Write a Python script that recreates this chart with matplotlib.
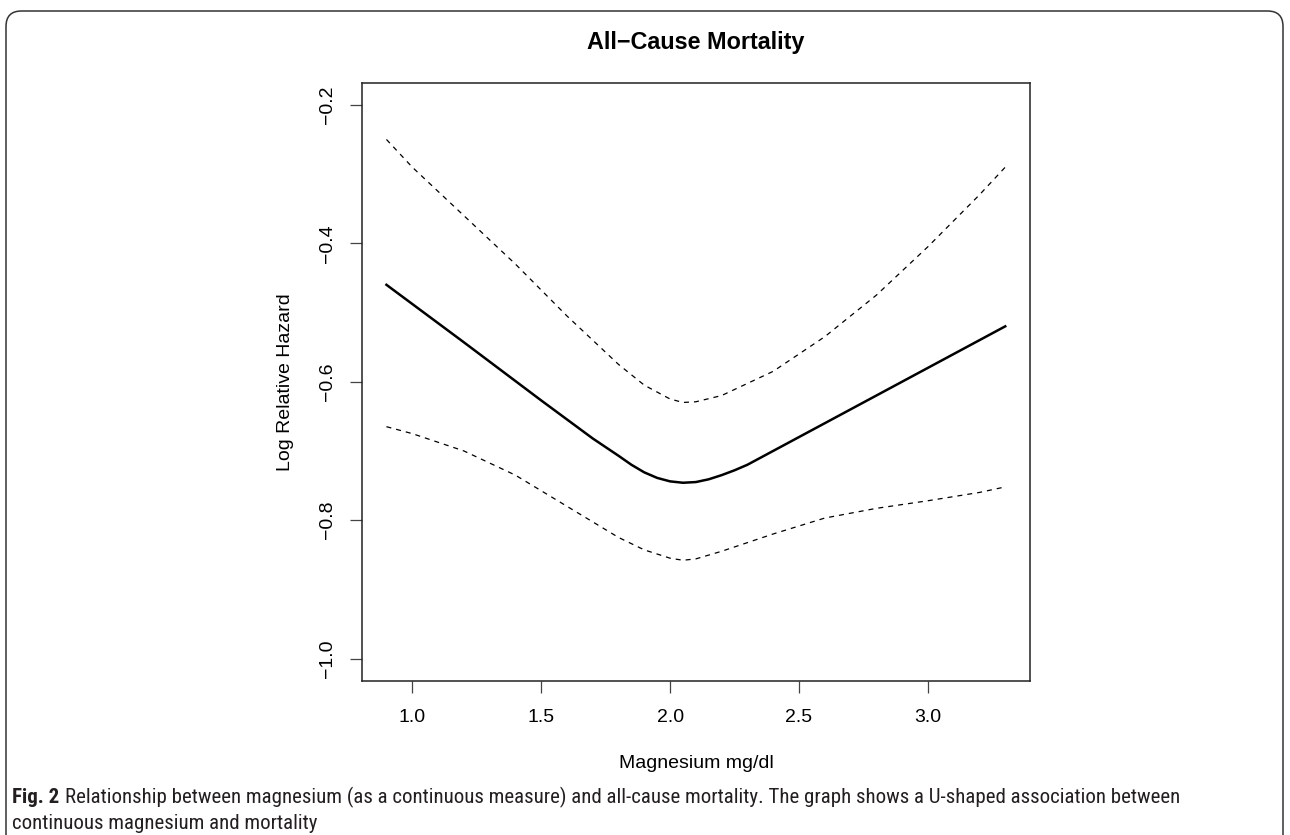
import matplotlib
matplotlib.use("Agg")
import matplotlib.pyplot as plt
from matplotlib import font_manager
from matplotlib.patches import FancyBboxPatch

plt.rcParams["font.family"] = ["Liberation Sans", "DejaVu Sans"]

# spline fit (log relative hazard vs magnesium)
mg_fit = [0.9, 1.2, 1.5, 1.7, 1.8, 1.85, 1.9, 1.95, 2.0, 2.05, 2.1, 2.15, 2.2, 2.25,
          2.3, 2.5, 2.8, 3.0, 3.3]
hazard = [-0.46, -0.543, -0.627, -0.682, -0.707, -0.72, -0.731, -0.739, -0.744, -0.746,
          -0.745, -0.741, -0.735, -0.728, -0.72, -0.68, -0.62, -0.58, -0.52]

mg_ci = [0.9, 1.0, 1.2, 1.4, 1.6, 1.8, 1.9, 2.0, 2.05, 2.1, 2.2, 2.4, 2.6, 2.8, 3.0, 3.2, 3.3]
upper = [-0.25, -0.29, -0.36, -0.43, -0.505, -0.575, -0.605, -0.625, -0.63, -0.629,
         -0.62, -0.585, -0.535, -0.475, -0.405, -0.33, -0.29]
lower = [-0.665, -0.675, -0.70, -0.735, -0.78, -0.825, -0.843, -0.855, -0.858, -0.856,
         -0.845, -0.82, -0.797, -0.783, -0.772, -0.76, -0.752]

x_ticks = [1.0, 1.5, 2.0, 2.5, 3.0]
y_ticks = [-1.0, -0.8, -0.6, -0.4, -0.2]

W, H = 1290, 835
fig = plt.figure(figsize=(W / 100, H / 100), dpi=100)

# rounded frame around the whole figure panel (open at the bottom)
frame = FancyBboxPatch((6 / W, -0.2), (1283 - 6) / W, 0.2 + (H - 11) / H,
                       boxstyle="round,pad=0,rounding_size=0.012",
                       transform=fig.transFigure, fill=False,
                       edgecolor="#333333", linewidth=1.1, mutation_aspect=W / H)
fig.patches.append(frame)

ax = fig.add_axes([361.7 / W, (H - 680.7) / H, (1030 - 361.7) / W, (680.7 - 82.7) / H])
ax.plot(mg_fit, hazard, color="black", lw=1.8)
ax.plot(mg_ci, upper, color="black", lw=0.9, linestyle=(0, (4, 4)))
ax.plot(mg_ci, lower, color="black", lw=0.9, linestyle=(0, (4, 4)))

# R style 4% padding
ax.set_xlim(0.9 - 0.096, 3.3 + 0.096)
ax.set_ylim(-1.0 - 0.032, -0.2 + 0.032)
ax.set_xticks(x_ticks)
ax.set_yticks(y_ticks)
ax.set_xticklabels([f"{v:.1f}" for v in x_ticks])
ax.set_yticklabels([f"{v:.1f}".replace("-", "\u2212") for v in y_ticks],
                   rotation=90, va="center")
ax.tick_params(length=8.6, width=0.9, color="#444444", labelsize=14, pad=10)
ax.tick_params(axis="x", pad=12)
for s in ax.spines.values():
    s.set_color("#222222")
    s.set_linewidth(1.1)

fig.text(696 / W, 1 - 763 / H, "Magnesium mg/dl", ha="center", va="center", fontsize=14)
fig.text(285 / W, 1 - 381.7 / H, "Log Relative Hazard", ha="center", va="center",
         fontsize=14, rotation=90)
fig.text(696 / W, 1 - 43 / H, "All\u2212Cause Mortality", ha="center", va="center",
         fontsize=16.8, fontweight="bold")

# caption under the chart
names = {f.name for f in font_manager.fontManager.ttflist}
cap_font = "DejaVu Sans"
for cand in ["Liberation Sans Narrow", "Roboto Condensed", "Open Sans Condensed", "Noto Sans"]:
    if cand in names:
        cap_font = cand
        break

cap_color = "#231f20"
cap_size = 15.0
fig_lbl = fig.text(12 / W, 1 - 803 / H, "Fig. 2", fontsize=cap_size, fontweight="bold",
                   family=cap_font, color=cap_color, va="baseline")
r = fig.canvas.get_renderer()
bb = fig_lbl.get_window_extent(r)
fig.text((bb.x1 + 6) / W, 1 - 803 / H,
         "Relationship between magnesium (as a continuous measure) and all-cause mortality. "
         "The graph shows a U-shaped association between",
         fontsize=cap_size, family=cap_font, color=cap_color, va="baseline")
fig.text(12 / W, 1 - 829 / H, "continuous magnesium and mortality",
         fontsize=cap_size, family=cap_font, color=cap_color, va="baseline")

fig.savefig("out.png", dpi=100)
